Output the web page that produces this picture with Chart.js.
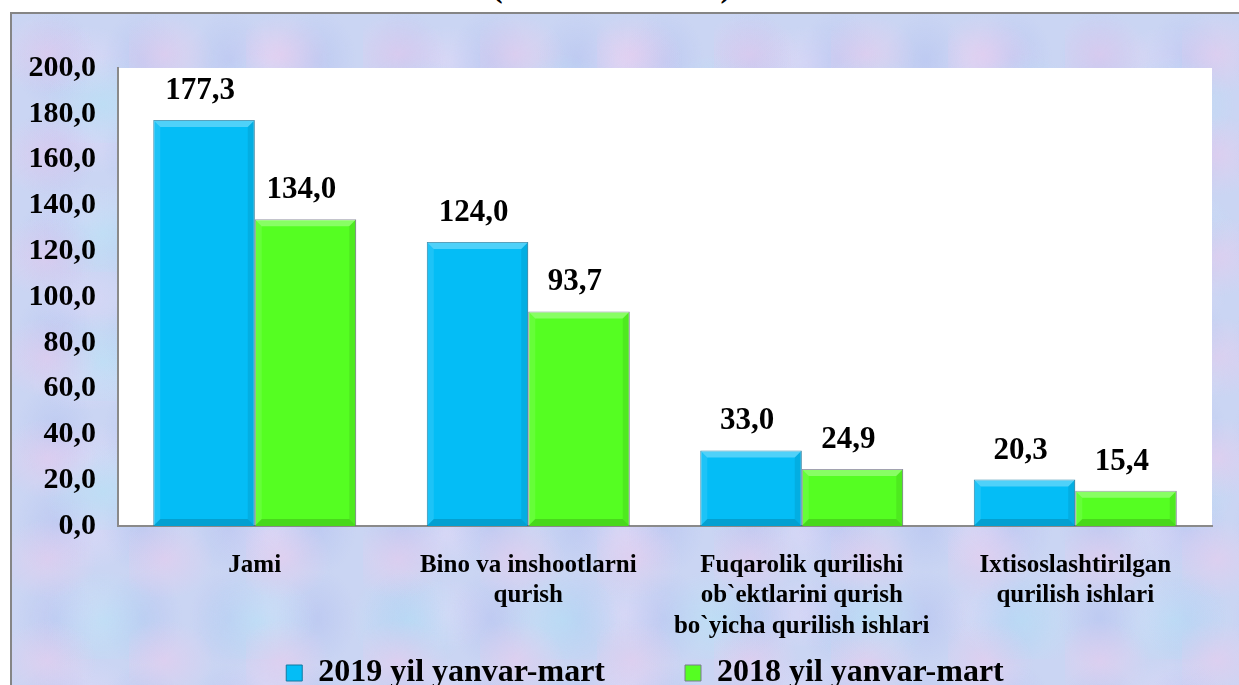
<!DOCTYPE html>
<html>
<head>
<meta charset="utf-8">
<script src="https://cdn.jsdelivr.net/npm/chart.js"></script>
<style>
  html, body { margin: 0; padding: 0; background: #fff; overflow: hidden; }
  body { width: 1239px; height: 685px; position: relative; }
  #title {
    position: absolute; left: 0; width: 1223px; top: -32px;
    text-align: center; font: bold 32px "Liberation Serif", serif; color: #000;
  }
  #frame {
    position: absolute; left: 10px; top: 12px; width: 1300px; height: 800px;
    border: 2px solid #858585;
    background-color: #cad5f3;
    background-image:
      radial-gradient(ellipse 50px 40px at 30% 40%, rgba(238,202,236,0.5), rgba(238,202,236,0)),
      radial-gradient(ellipse 60px 50px at 60% 70%, rgba(180,228,246,0.55), rgba(180,228,246,0)),
      radial-gradient(ellipse 40px 50px at 50% 50%, rgba(178,192,240,0.5), rgba(178,192,240,0)),
      radial-gradient(ellipse 55px 35px at 40% 60%, rgba(224,216,248,0.55), rgba(224,216,248,0));
    background-size: 117px 101px, 153px 129px, 87px 93px, 181px 79px;
  }
  #wrap { position: absolute; left: 0; top: 0; width: 1239px; height: 766px; }
</style>
</head>
<body>
<div id="title">(milliard so`mda)</div>
<div id="frame"></div>
<div id="wrap"><canvas id="myChart" width="1239" height="766"></canvas></div>

<script>
    const categories = [
        'Jami',
        ['Bino va inshootlarni', 'qurish'],
        ['Fuqarolik qurilishi', 'ob`ektlarini qurish', 'bo`yicha qurilish ishlari'],
        ['Ixtisoslashtirilgan', 'qurilish ishlari']
    ];
    const values2019 = [177.3, 124.0, 33.0, 20.3];
    const values2018 = [134.0, 93.7, 24.9, 15.4];
    const seriesNames = ['2019 yil yanvar-mart', '2018 yil yanvar-mart'];
    const yMin = 0, yMax = 200, yStep = 20;

    const serif = '"Liberation Serif", "Times New Roman", serif';

    function fmt(v) {
        return v.toFixed(1).replace('.', ',');
    }

    // white plot area
    const plotBg = {
        id: 'plotBg',
        beforeDraw(chart) {
            const a = chart.chartArea, ctx = chart.ctx;
            ctx.save();
            ctx.fillStyle = '#ffffff';
            ctx.fillRect(a.left, a.top, a.right - a.left, a.bottom - a.top);
            ctx.restore();
        }
    };

    // legend sits a bit right of centre and overlaps the spare space under the labels
    const legendShift = {
        id: 'legendShift',
        afterLayout(chart) {
            const lg = chart.legend;
            lg.left += 39; lg.right += 39;
            lg.top -= 67; lg.bottom -= 67;
        }
    };

    // bevel on bars + value labels
    const barExtras = {
        id: 'barExtras',
        afterDatasetsDraw(chart) {
            const ctx = chart.ctx;
            chart.data.datasets.forEach((ds, i) => {
                const meta = chart.getDatasetMeta(i);
                meta.data.forEach((bar, j) => {
                    const l = bar.x - bar.width / 2, r = bar.x + bar.width / 2;
                    const t = bar.y, b = bar.base;
                    const bv = Math.min(7, (b - t) / 2);
                    ctx.save();
                    ctx.fillStyle = 'rgba(255,255,255,0.3)';
                    ctx.beginPath();
                    ctx.moveTo(l, t); ctx.lineTo(r, t); ctx.lineTo(r - bv, t + bv); ctx.lineTo(l + bv, t + bv);
                    ctx.closePath(); ctx.fill();
                    ctx.fillStyle = 'rgba(255,255,255,0.1)';
                    ctx.beginPath();
                    ctx.moveTo(l, t); ctx.lineTo(l + bv, t + bv); ctx.lineTo(l + bv, b - bv); ctx.lineTo(l, b);
                    ctx.closePath(); ctx.fill();
                    ctx.fillStyle = 'rgba(0,0,0,0.08)';
                    ctx.beginPath();
                    ctx.moveTo(r, t); ctx.lineTo(r - bv, t + bv); ctx.lineTo(r - bv, b - bv); ctx.lineTo(r, b);
                    ctx.closePath(); ctx.fill();
                    ctx.fillStyle = 'rgba(0,0,0,0.15)';
                    ctx.beginPath();
                    ctx.moveTo(l, b); ctx.lineTo(r, b); ctx.lineTo(r - bv, b - bv); ctx.lineTo(l + bv, b - bv);
                    ctx.closePath(); ctx.fill();

                    ctx.fillStyle = '#000';
                    ctx.font = 'bold 31px ' + serif;
                    ctx.textAlign = 'center';
                    ctx.textBaseline = 'middle';
                    ctx.fillText(fmt(ds.data[j]), bar.x - 4, t - 29);
                    ctx.restore();
                });
            });
        }
    };

    const ctx = document.getElementById('myChart');
    myChart = new Chart(ctx, {
        type: 'bar',
        data: {
            labels: categories,
            datasets: [{
                label: seriesNames[0],
                data: values2019,
                backgroundColor: '#04bdf6',
                borderColor: '#1479a0',
                borderWidth: 1
            }, {
                label: seriesNames[1],
                data: values2018,
                backgroundColor: '#55fe22',
                borderColor: '#7a7a8e',
                borderWidth: 1
            }]
        },
        options: {
            responsive: false,
            animation: false,
            categoryPercentage: 0.742,
            barPercentage: 1.0,
            layout: {
                padding: { left: 0, top: 68, right: 27, bottom: 0 }
            },
            plugins: {
                tooltip: { enabled: false },
                legend: {
                    position: 'bottom',
                    labels: {
                        color: '#000',
                        font: { family: serif, size: 32, weight: 'bold' },
                        boxWidth: 16,
                        boxHeight: 16,
                        padding: 80
                    }
                }
            },
            scales: {
                x: {
                    grid: { display: false, drawTicks: false },
                    border: { color: '#8a8a8a', width: 2 },
                    ticks: {
                        color: '#000',
                        padding: 24,
                        maxRotation: 0,
                        autoSkip: false,
                        font: { family: serif, size: 25, weight: 'bold', lineHeight: 1.22 }
                    },
                    afterFit(scale) { scale.height = 118; }
                },
                y: {
                    min: yMin,
                    max: yMax,
                    grid: { display: false, drawTicks: false },
                    border: { color: '#8a8a8a', width: 2 },
                    ticks: {
                        stepSize: yStep,
                        color: '#000',
                        padding: 22,
                        font: { family: serif, size: 30, weight: 'bold' },
                        callback: (v) => fmt(v)
                    },
                    afterFit(scale) { scale.width = 118; }
                }
            }
        },
        plugins: [plotBg, barExtras, legendShift]
    });
</script>
</body>
</html>
